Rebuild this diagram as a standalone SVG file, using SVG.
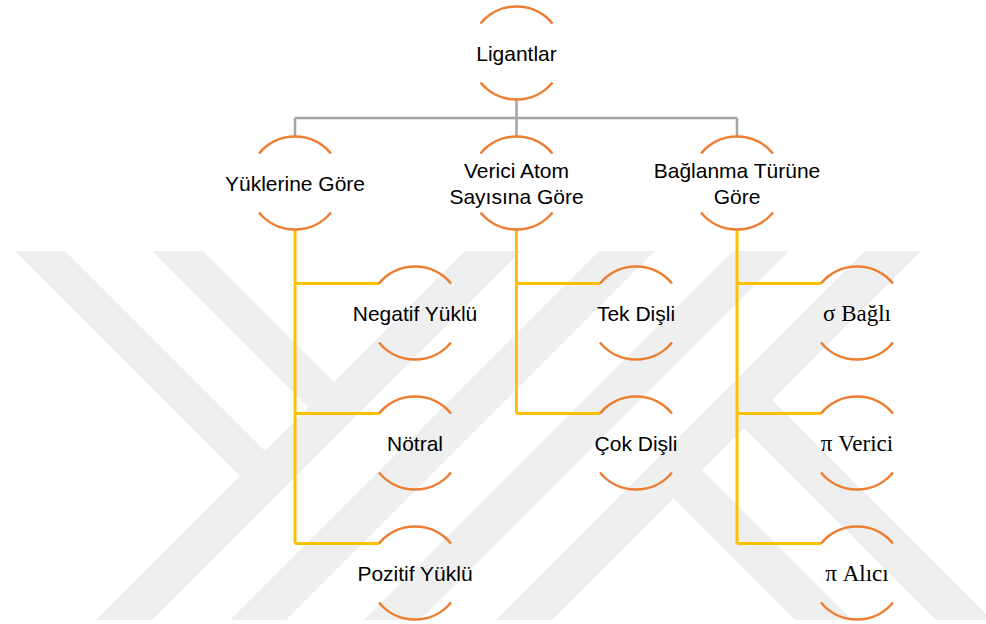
<svg xmlns="http://www.w3.org/2000/svg" xmlns:xlink="http://www.w3.org/1999/xlink" width="986" height="624" viewBox="0 0 986 624">
  <style>
    .wm { fill: #efefef; }
    .ring { fill: none; stroke: #ED7D31; stroke-width: 2.5; }
    .lvl1 { fill: none; stroke: #A5A5A5; stroke-width: 2.5; }
    .lvl2 { fill: none; stroke: #FFC000; stroke-width: 3; }
    .sans { font-family: "Liberation Sans", Arial, sans-serif; font-size: 21px; fill: #000; text-anchor: middle; }
    .serif { font-family: "Liberation Serif", "Times New Roman", serif; font-size: 23px; fill: #000; text-anchor: middle; }
  </style>
  <defs>
    <!-- open circle: upper and lower arcs only -->
    <path id="ringArcs" class="ring" d="M-36,-29.5 A46.5,46.5 0 0 1 36,-29.5 M-36,29.5 A46.5,46.5 0 0 0 36,29.5"/>
  </defs>

  <rect width="986" height="624" fill="#ffffff"/>

  <!-- background stripe emblem -->
  <g id="emblem">
    <polygon class="wm" points="15,251 65,251 279,465 254,490"/>
    <polygon class="wm" points="152,251 203,251 348,396 322.5,421.5"/>
    <polygon class="wm" points="465,251 521,251 152,620 96,620"/>
    <polygon class="wm" points="599,251 655,251 286,620 230,620"/>
    <polygon class="wm" points="733,251 789,251 420,620 364,620"/>
    <polygon class="wm" points="865,251 921,251 552,620 496,620"/>
    <polygon class="wm" points="659.5,484.5 688,456 852,620 795,620"/>
    <polygon class="wm" points="730,414 758,386 992,620 936,620"/>
  </g>

  <!-- connectors -->
  <g id="connectors">
    <path class="lvl1" d="M516.5,99.5 V136.5 M295,118 H737 M295,118 V136.5 M737,118 V136.5"/>
    <path class="lvl2" d="M295,229.5 V543.5 M295,283.5 H379 M295,413.5 H379 M295,543.5 H379"/>
    <path class="lvl2" d="M516.5,229.5 V413.5 M516.5,283.5 H600 M516.5,413.5 H600"/>
    <path class="lvl2" d="M737,229.5 V543.5 M737,283.5 H821 M737,413.5 H821 M737,543.5 H821"/>
  </g>

  <!-- root -->
  <g id="node-ligantlar">
    <use xlink:href="#ringArcs" href="#ringArcs" transform="translate(516.5,53)"/>
    <text class="sans" x="516.5" y="60.5">Ligantlar</text>
  </g>

  <!-- second level -->
  <g id="node-yuklerine-gore">
    <use xlink:href="#ringArcs" href="#ringArcs" transform="translate(295,183)"/>
    <text class="sans" x="295" y="190.5">Yüklerine Göre</text>
  </g>
  <g id="node-verici-atom">
    <use xlink:href="#ringArcs" href="#ringArcs" transform="translate(516.5,183)"/>
    <text class="sans" x="516.5" y="177.5">Verici Atom</text>
    <text class="sans" x="516.5" y="203.5">Sayısına Göre</text>
  </g>
  <g id="node-baglanma-turu">
    <use xlink:href="#ringArcs" href="#ringArcs" transform="translate(737,183)"/>
    <text class="sans" x="737" y="177.5">Bağlanma Türüne</text>
    <text class="sans" x="737" y="203.5">Göre</text>
  </g>

  <!-- charge-based ligands -->
  <g id="node-negatif">
    <use xlink:href="#ringArcs" href="#ringArcs" transform="translate(415,313)"/>
    <text class="sans" x="415" y="320.5">Negatif Yüklü</text>
  </g>
  <g id="node-notral">
    <use xlink:href="#ringArcs" href="#ringArcs" transform="translate(415,443)"/>
    <text class="sans" x="415" y="450.5">Nötral</text>
  </g>
  <g id="node-pozitif">
    <use xlink:href="#ringArcs" href="#ringArcs" transform="translate(415,573)"/>
    <text class="sans" x="415" y="580.5">Pozitif Yüklü</text>
  </g>

  <!-- denticity -->
  <g id="node-tek-disli">
    <use xlink:href="#ringArcs" href="#ringArcs" transform="translate(636,313)"/>
    <text class="sans" x="636" y="320.5">Tek Dişli</text>
  </g>
  <g id="node-cok-disli">
    <use xlink:href="#ringArcs" href="#ringArcs" transform="translate(636,443)"/>
    <text class="sans" x="636" y="450.5">Çok Dişli</text>
  </g>

  <!-- bonding type -->
  <g id="node-sigma">
    <use xlink:href="#ringArcs" href="#ringArcs" transform="translate(857,313)"/>
    <text class="serif" x="857" y="320.5">σ Bağlı</text>
  </g>
  <g id="node-pi-verici">
    <use xlink:href="#ringArcs" href="#ringArcs" transform="translate(857,443)"/>
    <text class="serif" x="857" y="450.5">π Verici</text>
  </g>
  <g id="node-pi-alici">
    <use xlink:href="#ringArcs" href="#ringArcs" transform="translate(857,573)"/>
    <text class="serif" x="857" y="580.5">π Alıcı</text>
  </g>
</svg>
